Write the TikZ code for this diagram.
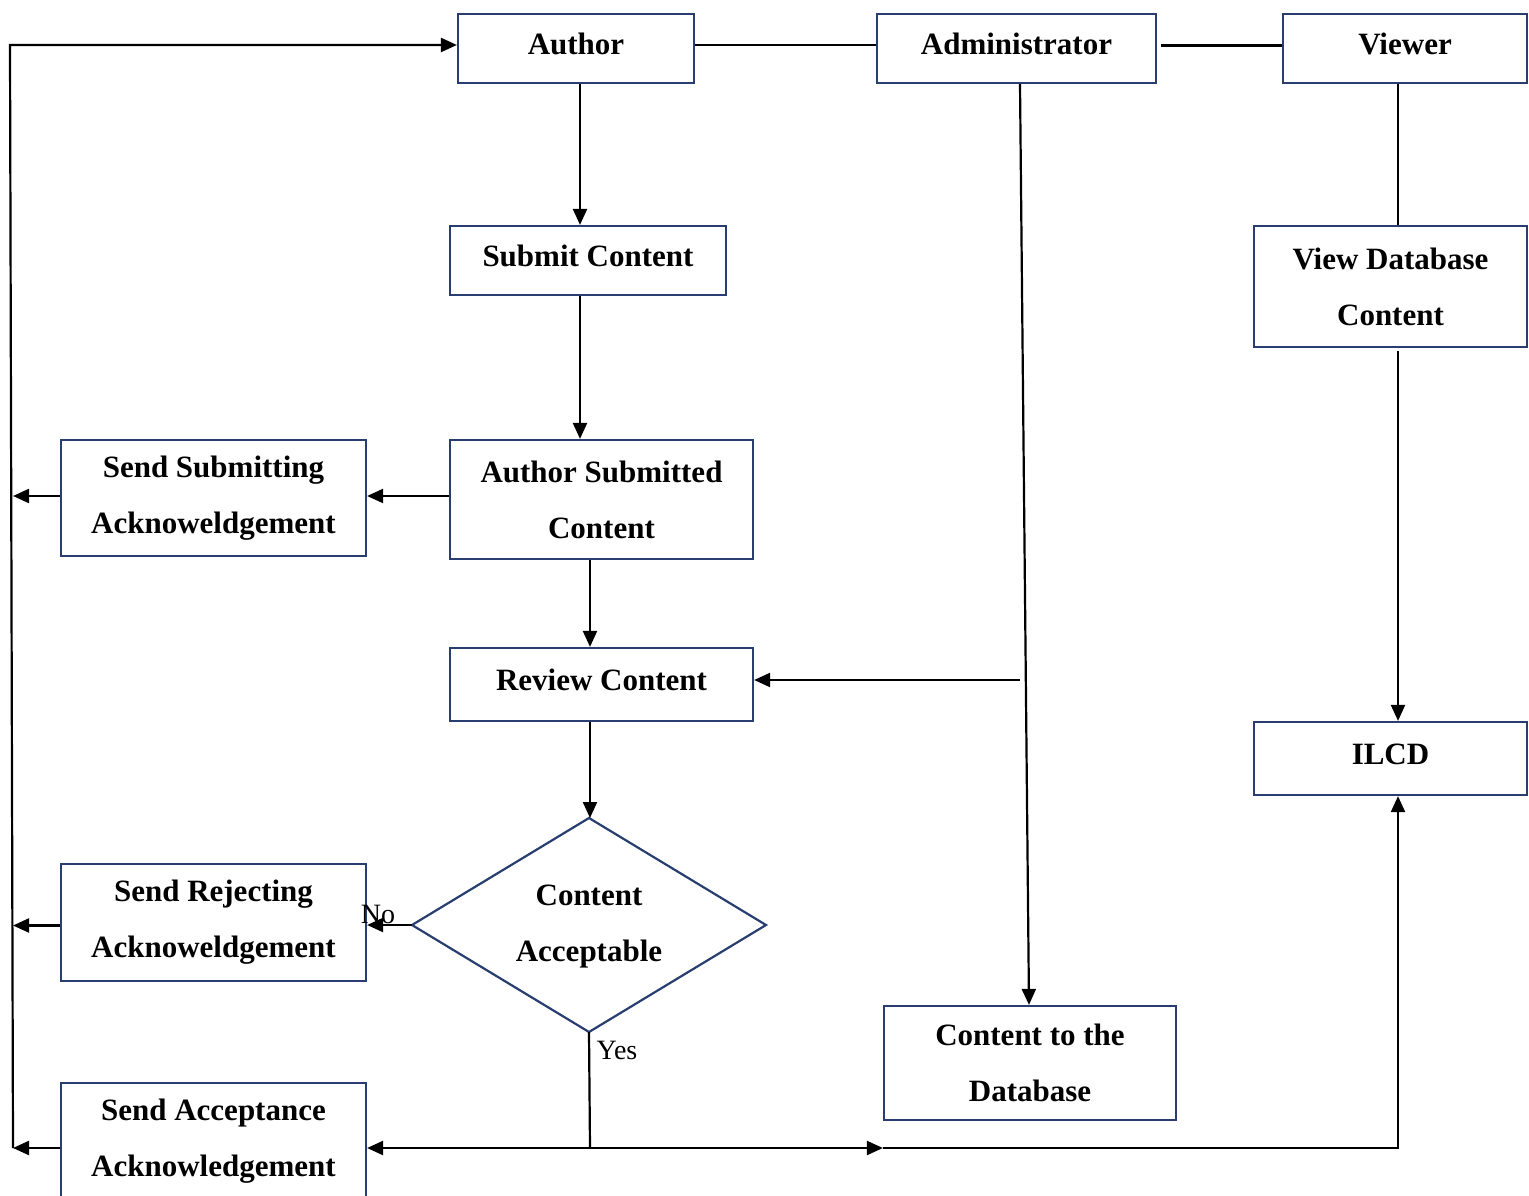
\documentclass[tikz,border=0pt]{standalone}
\usepackage{fontspec}
\setmainfont{Liberation Serif}
\usetikzlibrary{arrows.meta}
\definecolor{boxblue}{RGB}{40,62,112}
\begin{document}
\begin{tikzpicture}[x=1pt,y=-1pt,
  box/.style={draw=boxblue,line width=2.2pt,inner sep=0pt,align=center,font=\fontsize{31}{56}\selectfont\bfseries},
  oneline/.style={box,text depth=9pt},
  conn/.style={line width=2.2pt,black},
  arr/.style={conn,-{Triangle[length=16pt,width=14pt]}},
  lbl/.style={font=\fontsize{28}{30}\selectfont,inner sep=0pt}]
\clip (0,0) rectangle (1529,1196);
% nodes
\node[oneline,minimum width=236,minimum height=69] (author) at (576,48.5) {Author};
\node[oneline,minimum width=279,minimum height=69] (admin) at (1016.5,48.5) {Administrator};
\node[oneline,minimum width=244,minimum height=69] (viewer) at (1405,48.5) {Viewer};
\node[oneline,minimum width=276,minimum height=69] (submit) at (588,260.5) {Submit Content};
\node[box,minimum width=303,minimum height=119] (asub) at (601.5,499.5) {Author Submitted\\Content};
\node[box,minimum width=305,minimum height=116] (ssub) at (213.5,498) {Send Submitting\\Acknoweldgement};
\node[oneline,minimum width=303,minimum height=73] (review) at (601.5,684.5) {Review Content};
\node[box,draw=none,minimum width=200,minimum height=110] (dia) at (589,927) {Content\\Acceptable};
\node[box,minimum width=305,minimum height=117] (srej) at (213.5,922.5) {Send Rejecting\\Acknoweldgement};
\node[box,minimum width=305,minimum height=117] (sacc) at (213.5,1141.5) {Send Acceptance\\Acknowledgement};
\node[box,minimum width=292,minimum height=114] (db) at (1030,1063) {Content to the\\Database};
\node[box,minimum width=273,minimum height=121] (vdb) at (1390.5,286.5) {View Database\\Content};
\node[oneline,minimum width=273,minimum height=73] (ilcd) at (1390.5,758.5) {ILCD};
% diamond outline
\coordinate (dn) at (589,818);
\coordinate (de) at (766,925);
\coordinate (ds) at (589,1032);
\coordinate (dw) at (412,925);
\draw[draw=boxblue,line width=2.2pt] (dn) -- (de) -- (ds) -- (dw) -- cycle;
% coordinates
\coordinate (lt) at (10,45);
\coordinate (lb) at (13,1148);
\coordinate (J) at (590,1148);
\coordinate (K) at (1398,1148);
\coordinate (R) at (1020,680);
% connectors
\draw[arr] (lb) -- (lt) -- (author.west |- lt);
\draw[arr] ([yshift=2pt]ssub.west) -- ([yshift=2pt]ssub.west -| lb);
\draw[arr] ([yshift=-3pt]srej.west) -- ([yshift=-3pt]srej.west -| lb);
\draw[arr] (sacc.west |- J) -- (lb);
\draw[arr] ([xshift=4pt]author.south) -- ([xshift=-8pt]submit.north);
\draw[arr] ([xshift=-8pt]submit.south) -- ([xshift=-21.5pt]asub.north);
\draw[arr] ([yshift=3.5pt]asub.west) -- ([yshift=2pt]ssub.east);
\draw[arr] ([xshift=-11.5pt]asub.south) -- ([xshift=-11.5pt]review.north);
\draw[arr] ([xshift=-11.5pt]review.south) -- ([xshift=1pt]dn);
\draw[arr] (dw) -- (dw -| srej.east);
\draw[conn] (ds) -- (J);
\draw[arr] (J) -- (sacc.east |- J);
\draw[arr] (J) -- (db.west |- J);
\draw[arr] (db.west |- J) -- (K) -- (K |- ilcd.south);
\draw[conn] ([yshift=3.5pt]author.east) -- ([yshift=3.5pt]admin.west);
\draw[conn] ([yshift=3pt,xshift=4pt]admin.east) -- ([yshift=3pt]viewer.west);
\draw[arr] ([xshift=3.5pt]admin.south) -- ([xshift=-1pt]db.north);
\draw[arr] (R) -- (review.east |- R);
\draw[conn] ([xshift=-7pt]viewer.south) -- ([xshift=7.5pt]vdb.north);
\draw[arr] ([xshift=7.5pt,yshift=-3pt]vdb.south) -- ([xshift=7.5pt]ilcd.north);
% labels
\node[lbl] (no) at (378,914) {No};
\node[lbl] (yes) at (617,1050) {Yes};
\end{tikzpicture}
\end{document}
